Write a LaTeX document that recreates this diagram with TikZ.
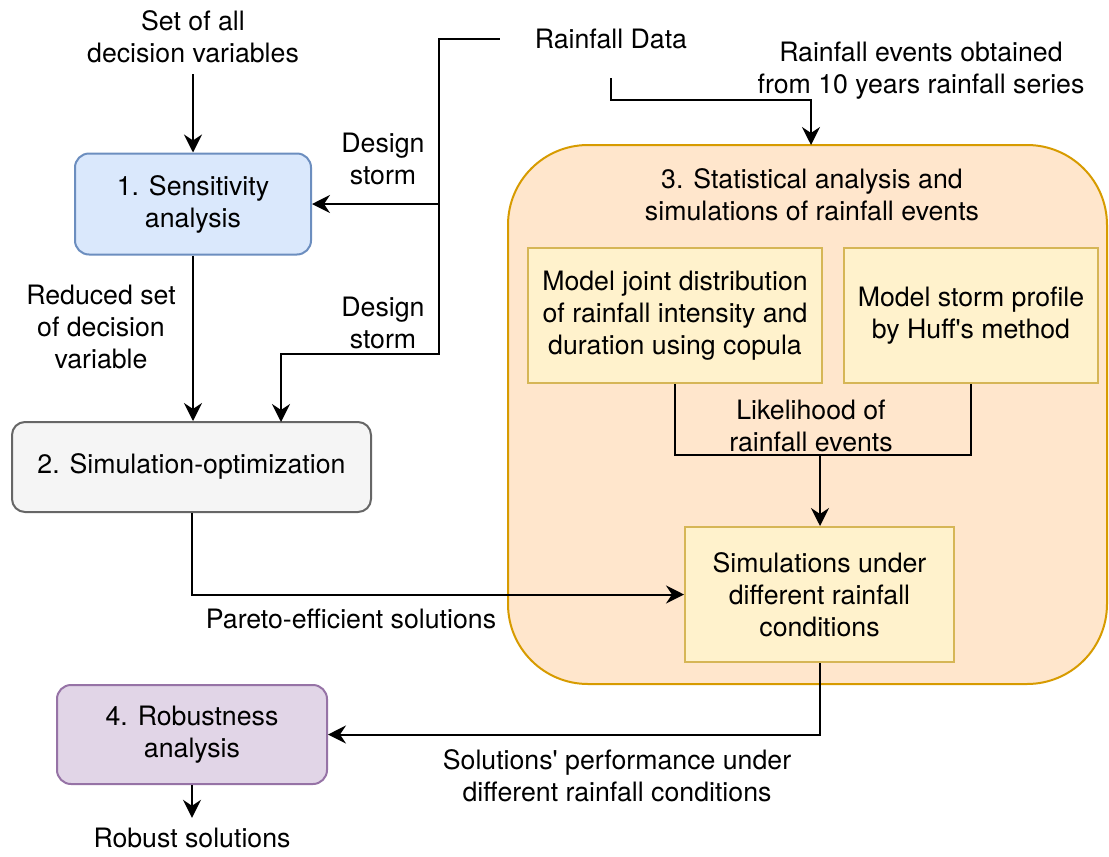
\documentclass[tikz,border=0pt]{standalone}
\usepackage{fontspec}
\setmainfont{TeX Gyre Heros}
\usetikzlibrary{arrows.meta,calc}

\definecolor{blueF}{HTML}{DAE8FC}\definecolor{blueS}{HTML}{6C8EBF}
\definecolor{grayF}{HTML}{F5F5F5}\definecolor{grayS}{HTML}{666666}
\definecolor{orangeF}{HTML}{FFE6CC}\definecolor{orangeS}{HTML}{D79B00}
\definecolor{yellowF}{HTML}{FFF2CC}\definecolor{yellowS}{HTML}{D6B656}
\definecolor{purpleF}{HTML}{E1D5E7}\definecolor{purpleS}{HTML}{9673A6}

\newcommand{\apos}{\textquotesingle}

\tikzset{
  every node/.style={font=\fontsize{26.7}{32}\selectfont, align=center, inner sep=0pt},
  stage/.style={draw, line width=2pt, rounded corners=14pt},
  sub/.style={draw=yellowS, fill=yellowF, line width=2pt},
  lbl/.style={},
  link/.style={draw, line width=2pt},
  arr/.style={link, -{Stealth[length=18pt,width=18pt,inset=6pt]}},
}

\begin{document}
\begin{tikzpicture}[x=1pt,y=-1pt]
\useasboundingbox (0,0) rectangle (1109,857);

% stage 3 container
\node[stage, draw=orangeS, fill=orangeF, rounded corners=80pt,
      minimum width=599pt, minimum height=539pt] (s3) at (807.5,414.5) {};
\node[lbl] (t3) at (812,195) {3. Statistical analysis and\\simulations of rainfall events};

% main stages
\node[stage, draw=blueS, fill=blueF, minimum width=236pt, minimum height=101pt] (s1) at (193,204) {1. Sensitivity\\analysis};
\node[stage, draw=grayS, fill=grayF, minimum width=359pt, minimum height=90pt, rounded corners=13pt] (s2) at (191.5,467) {2. Simulation-optimization\strut};
\node[stage, draw=purpleS, fill=purpleF, minimum width=270pt, minimum height=99pt] (s4) at (192,734.5) {4. Robustness\\analysis};

% sub-steps of stage 3
\node[sub, minimum width=294pt, minimum height=135pt] (a) at (675,315.5) {Model joint distribution\\of rainfall intensity and\\duration using copula};
\node[sub, minimum width=254pt, minimum height=135pt] (b) at (971,315.5) {Model storm profile\\by Huff\apos{}s method};
\node[sub, minimum width=269pt, minimum height=135pt] (c) at (819.5,594.5) {Simulations under\\different rainfall\\conditions};

% inputs and outputs
\node[lbl, minimum height=74pt] (set) at (193,37) {Set of all\\decision variables};
\node[lbl, minimum width=222pt, minimum height=78pt] (rain) at (611,39) {Rainfall Data};
\node[lbl] (events) at (921,71) {Rainfall events obtained\\from 10 years rainfall series};
\node[lbl, minimum height=40pt] (robust) at (192,838) {Robust solutions};

% edge labels
\node[lbl] (ds1) at (383,159) {Design\\storm};
\node[lbl] (ds2) at (383,323) {Design\\storm};
\node[lbl] (red) at (101,327) {Reduced set\\of decision\\variable};
\node[lbl] (lik) at (811,426) {Likelihood of\\rainfall events};
\node[lbl] (par) at (351,619) {Pareto-efficient solutions};
\node[lbl] (perf) at (617,776) {Solutions\apos{} performance under\\different rainfall conditions};

% junctions
\coordinate (jdown) at (439,354);
\coordinate (jmid) at (439,204);
\coordinate (s2in) at (281,422);
\coordinate (jrain) at (811,100);
\coordinate (s3in) at (811,145);
\coordinate (lk) at (820,455);

% connectors
\draw[arr] (set.south) -- (s1.north);
\draw[arr] (rain.west) -| (jdown) -- (jdown -| s2in) -- (s2in);
\draw[arr] (jmid) -- (s1.east);
\draw[arr] (s1.south) -- (s1.south |- s2.north);
\draw[arr] (rain.south) |- (jrain) -- (s3in);
\draw[link] (a.south) |- (lk) -| (b.south);
\draw[arr] (lk) -- (lk |- c.north);
\draw[arr] (s2.south) |- (c.west);
\draw[arr] (c.south) |- (s4.east);
\draw[arr] (s4.south) -- (robust.north);
\end{tikzpicture}
\end{document}
